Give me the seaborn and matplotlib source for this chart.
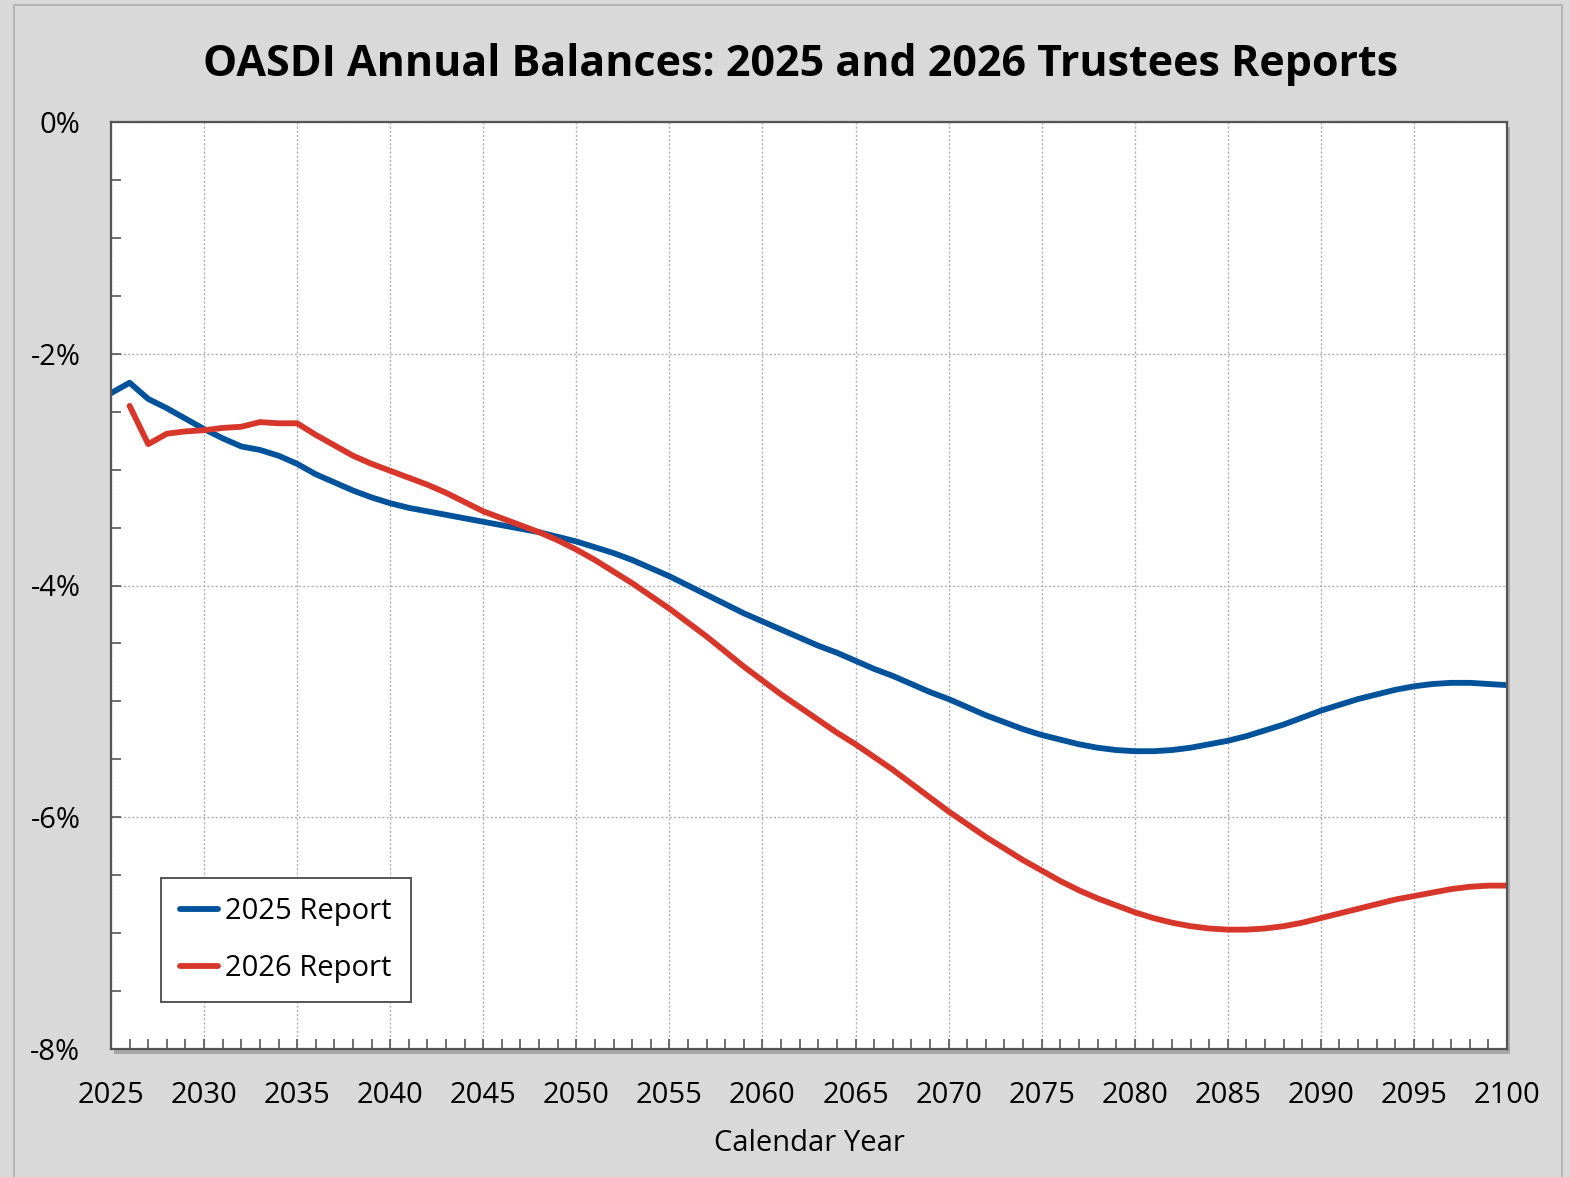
import pandas as pd
import matplotlib
matplotlib.use("Agg")
import matplotlib.pyplot as plt
from matplotlib.patches import Rectangle
from matplotlib.ticker import MultipleLocator, FuncFormatter
import seaborn as sns

# annual OASDI balance as percent of taxable payroll
years_2025 = list(range(2025, 2101))
balance_2025 = [
    -2.34, -2.25, -2.39, -2.47, -2.56, -2.65, -2.73, -2.80, -2.83, -2.88,
    -2.95, -3.04, -3.11, -3.18, -3.24, -3.29, -3.33, -3.36, -3.39, -3.42,
    -3.45, -3.48, -3.51, -3.54, -3.58, -3.62, -3.67, -3.72, -3.78, -3.85,
    -3.92, -4.00, -4.08, -4.16, -4.24, -4.31, -4.38, -4.45, -4.52, -4.58,
    -4.65, -4.72, -4.78, -4.85, -4.92, -4.98, -5.05, -5.12, -5.18, -5.24,
    -5.29, -5.33, -5.37, -5.40, -5.42, -5.43, -5.43, -5.42, -5.40, -5.37,
    -5.34, -5.30, -5.25, -5.20, -5.14, -5.08, -5.03, -4.98, -4.94, -4.90,
    -4.87, -4.85, -4.84, -4.84, -4.85, -4.86,
]

years_2026 = list(range(2026, 2101))
balance_2026 = [
    -2.45, -2.78, -2.69, -2.67, -2.66, -2.64, -2.63, -2.59, -2.60,
    -2.60, -2.70, -2.79, -2.88, -2.95, -3.01, -3.07, -3.13, -3.20, -3.28,
    -3.36, -3.42, -3.48, -3.54, -3.61, -3.69, -3.78, -3.88, -3.98, -4.09,
    -4.20, -4.32, -4.44, -4.57, -4.70, -4.82, -4.94, -5.05, -5.16, -5.27,
    -5.37, -5.48, -5.59, -5.71, -5.83, -5.95, -6.06, -6.17, -6.27, -6.37,
    -6.46, -6.55, -6.63, -6.70, -6.76, -6.82, -6.87, -6.91, -6.94, -6.96,
    -6.97, -6.97, -6.96, -6.94, -6.91, -6.87, -6.83, -6.79, -6.75, -6.71,
    -6.68, -6.65, -6.62, -6.60, -6.59, -6.59,
]

reports = ["2025 Report", "2026 Report"]
colors = {"2025 Report": "#00529b", "2026 Report": "#d7372a"}

df = pd.concat([
    pd.DataFrame({"Year": years_2025, "Balance": balance_2025, "Report": reports[0]}),
    pd.DataFrame({"Year": years_2026, "Balance": balance_2026, "Report": reports[1]}),
])

sns.set_style("white")
plt.rcParams["font.family"] = ["Open Sans", "DejaVu Sans"]
plt.rcParams["text.color"] = "black"
plt.rcParams["xtick.labelcolor"] = "black"
plt.rcParams["ytick.labelcolor"] = "black"
plt.rcParams["axes.labelcolor"] = "black"

fig = plt.figure(figsize=(15.7, 11.77), dpi=100, facecolor="#d9d9d9")
W, H = 1570, 1177
ax = fig.add_axes([111 / W, 1 - 1049 / H, (1507 - 111) / W, (1049 - 122) / H])
ax.set_zorder(2)

# outer chart-area border and plot-area shadow
fig.patches.append(Rectangle((14 / W, -0.01), (1562 - 14) / W, 1 - 5 / H + 0.01,
                             transform=fig.transFigure, fill=False,
                             edgecolor="#b4b4b4", linewidth=1.5, zorder=-1))
fig.patches.append(Rectangle((114 / W, 1 - 1054 / H), (1507 - 111) / W, (1049 - 122) / H,
                             transform=fig.transFigure, facecolor="#a8a8a8",
                             edgecolor="none", zorder=-1))

sns.lineplot(data=df, x="Year", y="Balance", hue="Report", palette=colors,
             linewidth=4.2, solid_joinstyle="round", ax=ax)

ax.set_facecolor("white")
ax.set_xlim(2025, 2100)
ax.set_ylim(-8, 0)
ax.xaxis.set_major_locator(MultipleLocator(5))
ax.xaxis.set_minor_locator(MultipleLocator(1))
ax.yaxis.set_major_locator(MultipleLocator(2))
ax.yaxis.set_minor_locator(MultipleLocator(0.5))
ax.yaxis.set_major_formatter(FuncFormatter(lambda v, p: f"{v:.0f}%"))

ax.grid(True, which="major", linestyle=(0, (1.5, 1.5)), color="#b0b0b0", linewidth=1)
ax.tick_params(axis="both", which="both", direction="in", color="#555555",
               width=1.2, labelsize=21, bottom=True, left=True)
ax.tick_params(axis="both", which="major", length=7)
ax.tick_params(axis="both", which="minor", length=7)
ax.tick_params(axis="x", which="major", pad=23)
ax.tick_params(axis="y", which="major", pad=22)

for s in ax.spines.values():
    s.set_visible(True)
    s.set_color("#555555")
    s.set_linewidth(1.6)

ax.set_ylabel("")
ax.set_xlabel("Calendar Year", fontsize=21, labelpad=14)

fig.suptitle("OASDI Annual Balances: 2025 and 2026 Trustees Reports",
             x=0.51, y=1 - 65 / H, va="center", fontsize=31, fontweight="bold")

ax.legend(loc="lower left", bbox_to_anchor=(0.036, 0.051), borderaxespad=0,
          fontsize=21, frameon=True, fancybox=False, edgecolor="#555555",
          framealpha=1, handlelength=1.3, handletextpad=0.25,
          labelspacing=0.95, borderpad=0.65, title=None)
ax.get_legend().get_frame().set_linewidth(1.4)

plt.savefig("out.png", dpi=100, facecolor=fig.get_facecolor())
